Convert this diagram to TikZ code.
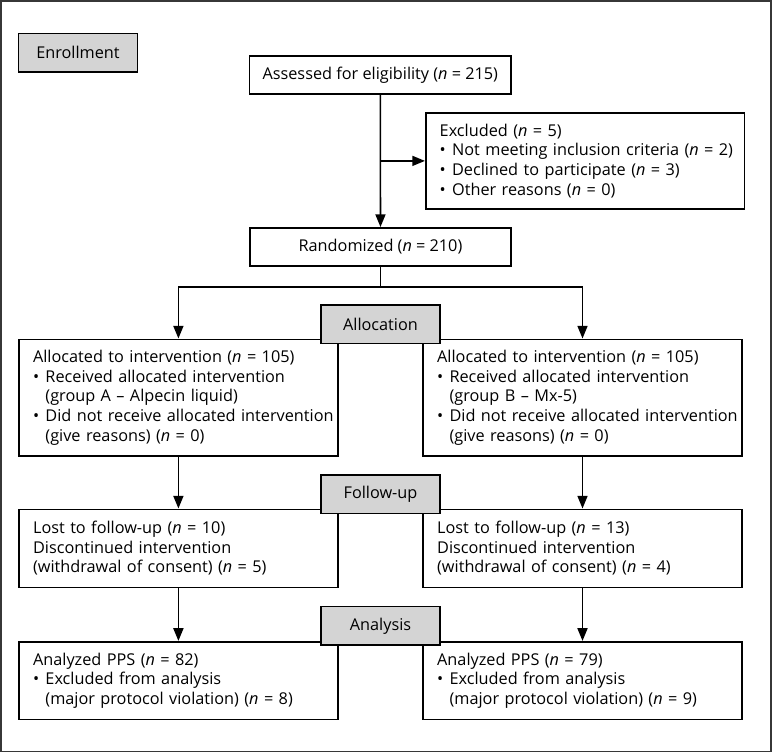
\documentclass[tikz,border=0pt]{standalone}
\usepackage{fontspec}
\setmainfont{Open Sans}
\usepackage{tikz}
\usetikzlibrary{arrows.meta}
\tikzset{every picture/.style={line width=0.75pt}}
\definecolor{stagegray}{RGB}{212,212,212}
\definecolor{framegray}{RGB}{55,55,55}
\newcommand{\bul}{\makebox[9.3pt][l]{\textbullet}}
\newcommand{\ind}{\hspace*{9.3pt}}
\newcommand{\nn}{\textit{n}}
\tikzset{
  txt/.style={font=\fontsize{12.2}{14.8}\selectfont},
  sidebox/.style={txt, draw, fill=white, line width=1.2pt, align=left, inner xsep=10.5pt, inner ysep=0pt,
    text width=218pt, minimum height=#1},
  midbox/.style={txt, draw, fill=white, line width=1.2pt, align=center, inner sep=0pt,
    minimum width=196pt, minimum height=28.6pt},
  stage/.style={txt, draw, fill=stagegray, line width=1.2pt, inner sep=0pt,
    minimum width=89.4pt, minimum height=29pt},
  arr/.style={-{Triangle[length=9.5pt,width=7.5pt]}, line width=1.2pt}
}

\begin{document}
\begin{tikzpicture}[x=0.75pt,y=0.75pt,yscale=-1,xscale=1]
	\useasboundingbox (0,0) rectangle (773,753);
	%Shape: Frame
	\draw [framegray, line width=1.1pt] (1,1) rectangle (771,751.5);

	% Enrollment
	\node [stage] (enrol) at (78,52.7) {Enrollment};
	\node [midbox] (assess) at (380.3,75) {Assessed for eligibility (\nn{} = 215)};
	\node [sidebox=72.2pt, text width=218.2pt] (excl) at (585.2,160.9) {Excluded (\nn{} = 5)\\
		\mbox{\bul Not meeting inclusion criteria (\nn{} = 2)}\\
		\bul Declined to participate (\nn{} = 3)\\
		\bul Other reasons (\nn{} = 0)};
	\node [midbox] (rand) at (380.5,246.9) {Randomized (\nn{} = 210)};

	% Allocation
	\node [sidebox=87.3pt] (allocA) at (178.4,397.5) {Allocated to intervention (\nn{} = 105)\\
		\bul Received allocated intervention\\
		\ind (group A -- Alpecin liquid)\\
		\mbox{\bul Did not receive allocated intervention}\\
		\ind (give reasons) (\nn{} = 0)};
	\node [sidebox=87.3pt] (allocB) at (582.5,397.5) {Allocated to intervention (\nn{} = 105)\\
		\bul Received allocated intervention\\
		\ind (group B -- Mx-5)\\
		\mbox{\bul Did not receive allocated intervention}\\
		\ind (give reasons) (\nn{} = 0)};

	% Follow-up
	\node [sidebox=58.5pt] (fuA) at (178.4,548.3) {Lost to follow-up (\nn{} = 10)\\
		Discontinued intervention\\
		(withdrawal of consent) (\nn{} = 5)};
	\node [sidebox=58.5pt] (fuB) at (582.5,548.3) {Lost to follow-up (\nn{} = 13)\\
		Discontinued intervention\\
		(withdrawal of consent) (\nn{} = 4)};

	% Analysis
	\node [sidebox=58.2pt] (anA) at (178.4,680.5) {Analyzed PPS (\nn{} = 82)\\
		\bul Excluded from analysis\\
		\ind (major protocol violation) (\nn{} = 8)};
	\node [sidebox=58.2pt] (anB) at (582.5,680.5) {Analyzed PPS (\nn{} = 79)\\
		\bul Excluded from analysis\\
		\ind (major protocol violation) (\nn{} = 9)};

	% Stage labels
	\node [stage] (lblAlloc) at (380.5,324.2) {Allocation};
	\node [stage] (lblFollow) at (380.5,494.2) {Follow-up};
	\node [stage] (lblAnal) at (380.5,625.9) {Analysis};

	% Connectors
	\draw [arr] (assess) -- (rand);
	\draw [arr] (assess.south |- excl.west) -- (excl.west);
	\draw [arr] (rand.south) -- ++(0,20) -| (allocA.north);
	\draw [arr] (rand.south) -- ++(0,20) -| (allocB.north);
	\draw [arr] (allocA) -- (fuA);
	\draw [arr] (allocB) -- (fuB);
	\draw [arr] (fuA) -- (anA);
	\draw [arr] (fuB) -- (anB);
\end{tikzpicture}
\end{document}
